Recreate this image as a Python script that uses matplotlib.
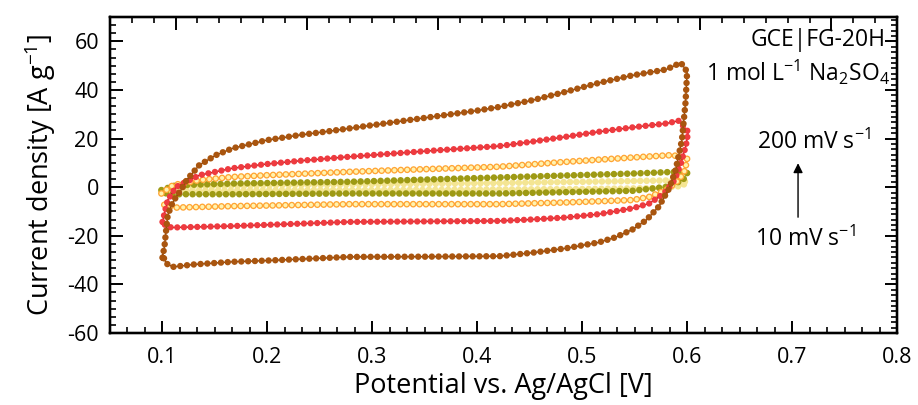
import matplotlib
matplotlib.use("Agg")
import matplotlib.pyplot as plt
from matplotlib.ticker import MultipleLocator, AutoMinorLocator, NullFormatter

plt.rcParams['font.family'] = ['Open Sans', 'DejaVu Sans']
plt.rcParams['mathtext.fontset'] = 'custom'
plt.rcParams['mathtext.rm'] = 'Open Sans'
plt.rcParams['mathtext.it'] = 'Open Sans:italic'
plt.rcParams['mathtext.bf'] = 'Open Sans:bold'
plt.rcParams['lines.scale_dashes'] = False

# ---- data, loop order: forward then reverse sweep ----
v_200 = [0.100, 0.102, 0.105, 0.109, 0.113, 0.118, 0.123, 0.135, 0.151, 0.167, 0.199, 0.230,
         0.262, 0.300, 0.350, 0.400, 0.421, 0.453, 0.484, 0.516, 0.548, 0.580, 0.594, 0.600,
         0.5985, 0.595, 0.589, 0.583, 0.573, 0.561, 0.548, 0.532, 0.516, 0.484, 0.452, 0.421,
         0.350, 0.278, 0.200, 0.167, 0.130, 0.110, 0.104, 0.100]
i_200 = [-29, -24, -11.5, -7, -4, -1, 2.9, 9, 13.2, 16, 19.3, 21.4,
         23.2, 25.5, 28.5, 31.5, 33, 35.8, 39.2, 42.9, 46, 48.4, 51.2, 47.5,
         35, 19.3, 7, -0.4, -8, -13.6, -17.4, -20.6, -22.7, -25.2, -27, -28.4,
         -28.6, -28.7, -30.2, -30.7, -31.8, -32.8, -31.5, -28]

v_100 = [0.100, 0.105, 0.113, 0.126, 0.135, 0.167, 0.199, 0.230, 0.278, 0.350, 0.421, 0.452,
         0.484, 0.516, 0.548, 0.580, 0.592, 0.601, 0.599, 0.594, 0.588, 0.578, 0.564, 0.548,
         0.516, 0.484, 0.452, 0.421, 0.350, 0.278, 0.200, 0.167, 0.110, 0.104, 0.100]
i_100 = [-14.3, -5.3, 0.1, 2.9, 4.9, 7.8, 9.5, 10.8, 12.5, 14.8, 16.9, 18.7,
         20.7, 22.8, 24.6, 26.2, 27.3, 22.8, 17.3, 9.8, 2.9, -2.6, -6.7, -8.7,
         -11.1, -12.5, -13.3, -13.9, -14.1, -14.3, -15.5, -16, -16.6, -16.3, -14.3]

v_50 = [0.099, 0.110, 0.135, 0.167, 0.199, 0.278, 0.350, 0.421, 0.484, 0.548, 0.586, 0.600,
        0.598, 0.592, 0.580, 0.564, 0.548, 0.484, 0.421, 0.350, 0.278, 0.167, 0.113, 0.099]
i_50 = [-2.6, 0.8, 2.9, 4.2, 4.9, 6.3, 7.4, 8.4, 10.4, 12.2, 13.2, 11.8,
        7, 2.9, -1.2, -4, -5.3, -6.3, -7, -7, -7, -7.8, -8.4, -7]

v_20 = [0.099, 0.113, 0.167, 0.278, 0.421, 0.548, 0.589, 0.600, 0.596, 0.580, 0.548, 0.421,
        0.278, 0.167, 0.110, 0.099]
i_20 = [-1.2, 0.8, 1.5, 2.2, 4, 5.6, 6.3, 5.8, 2.9, 0.1, -1.5, -2.6,
        -2.6, -2.9, -2.9, -2.3]

v_10 = [0.099, 0.120, 0.200, 0.300, 0.400, 0.500, 0.590, 0.600, 0.595, 0.570, 0.500, 0.400,
        0.300, 0.200, 0.120, 0.099]
i_10 = [-1.5, 0.2, 0.8, 1.2, 1.6, 2.2, 2.8, 2.2, 0.5, -0.4, -0.8, -1.0,
        -1.2, -1.3, -1.5, -1.5]

x_ticks = [0.1, 0.2, 0.3, 0.4, 0.5, 0.6, 0.7, 0.8]
y_ticks = [-60, -40, -20, 0, 20, 40, 60]

# ---- figure ----
fig = plt.figure(figsize=(9.18, 4.05), dpi=100)
ax = fig.add_axes([110/918, 1-333/405, (897-110)/918, (333-17)/405])

def dotted(v, i, color, lw, gap, z, line_color=None, face=None, face_lw=None):
    if line_color is not None:
        ax.plot(v, i, color=line_color, lw=1.0, zorder=z)
    ax.plot(v, i, color=color, lw=lw, zorder=z + 0.1,
            linestyle=(0, (0.001, gap)), dash_capstyle='round')
    if face is not None:
        ax.plot(v, i, color=face, lw=face_lw, zorder=z + 0.2,
                linestyle=(0, (0.001, gap)), dash_capstyle='round')

dotted(v_10, i_10, '#F4E593', 4.8, 4.6, 2)
dotted(v_20, i_20, '#9E9A14', 4.8, 4.8, 3)
dotted(v_50, i_50, '#FFA534', 4.9, 4.6, 4, face='#FFF3B0', face_lw=3.0)
dotted(v_100, i_100, '#EE3A3F', 4.6, 4.8, 5, line_color='#9B0F12')
dotted(v_200, i_200, '#A9550F', 4.7, 4.9, 6, line_color='#7A3A06')

ax.set_xlim(0.05, 0.8)
ax.set_ylim(-60, 70)
ax.set_xticks(x_ticks)
ax.set_yticks(y_ticks)
ax.set_xticklabels([f"{t:g}" for t in x_ticks])
ax.set_yticklabels([f"{t:d}" for t in y_ticks])
ax.xaxis.set_minor_locator(AutoMinorLocator(6))
ax.yaxis.set_minor_locator(AutoMinorLocator(6))
ax.tick_params(which='major', direction='in', length=9, width=1.4, labelsize=15.5)
ax.tick_params(axis='x', which='major', pad=10)
ax.tick_params(axis='y', which='major', pad=8)
ax.tick_params(which='minor', direction='in', length=4.5, width=1.2)
for s in ax.spines.values():
    s.set_linewidth(1.6)

ax.set_xlabel("Potential vs. Ag/AgCl [V]", fontsize=19.5, labelpad=3)
ax.set_ylabel("Current density [A g$^{-1}$]", fontsize=19.5, labelpad=7)

# top and right secondary tick sets
axt = ax.twiny()
axt.set_xlim(0, 6)
axt.set_xticks([0.5, 1.5, 2.5, 3.5, 4.5, 5.5])
axt.xaxis.set_minor_locator(MultipleLocator(1/6))
axt.xaxis.set_major_formatter(NullFormatter())
axt.tick_params(which='major', direction='in', length=9, width=1.4)
axt.tick_params(which='minor', direction='in', length=4.5, width=1.2)

axr = ax.twinx()
axr.set_ylim(-60, 70)
axr.set_yticks(y_ticks)
axr.yaxis.set_minor_locator(AutoMinorLocator(9))
axr.yaxis.set_major_formatter(NullFormatter())
axr.tick_params(which='major', direction='in', length=9, width=1.4)
axr.tick_params(which='minor', direction='in', length=4.5, width=1.2)
for a in (axt, axr):
    for s in a.spines.values():
        s.set_linewidth(1.6)

# annotations
ax.text(0.789, 60.5, "GCE|FG-20H", ha='right', va='center', fontsize=16.5)
ax.text(0.793, 47, "1 mol L$^{-1}$ Na$_2$SO$_4$", ha='right', va='center', fontsize=16.5)
ax.text(0.721, 18.5, "200 mV s$^{-1}$", ha='center', va='center', fontsize=16.5)
ax.text(0.713, -21.5, "10 mV s$^{-1}$", ha='center', va='center', fontsize=16.5)
ax.annotate("", xy=(0.7057, 11), xytext=(0.7057, -13.5),
            arrowprops=dict(arrowstyle='-|>', color='black', lw=1.0, mutation_scale=14))

fig.savefig("out.png", dpi=100)
